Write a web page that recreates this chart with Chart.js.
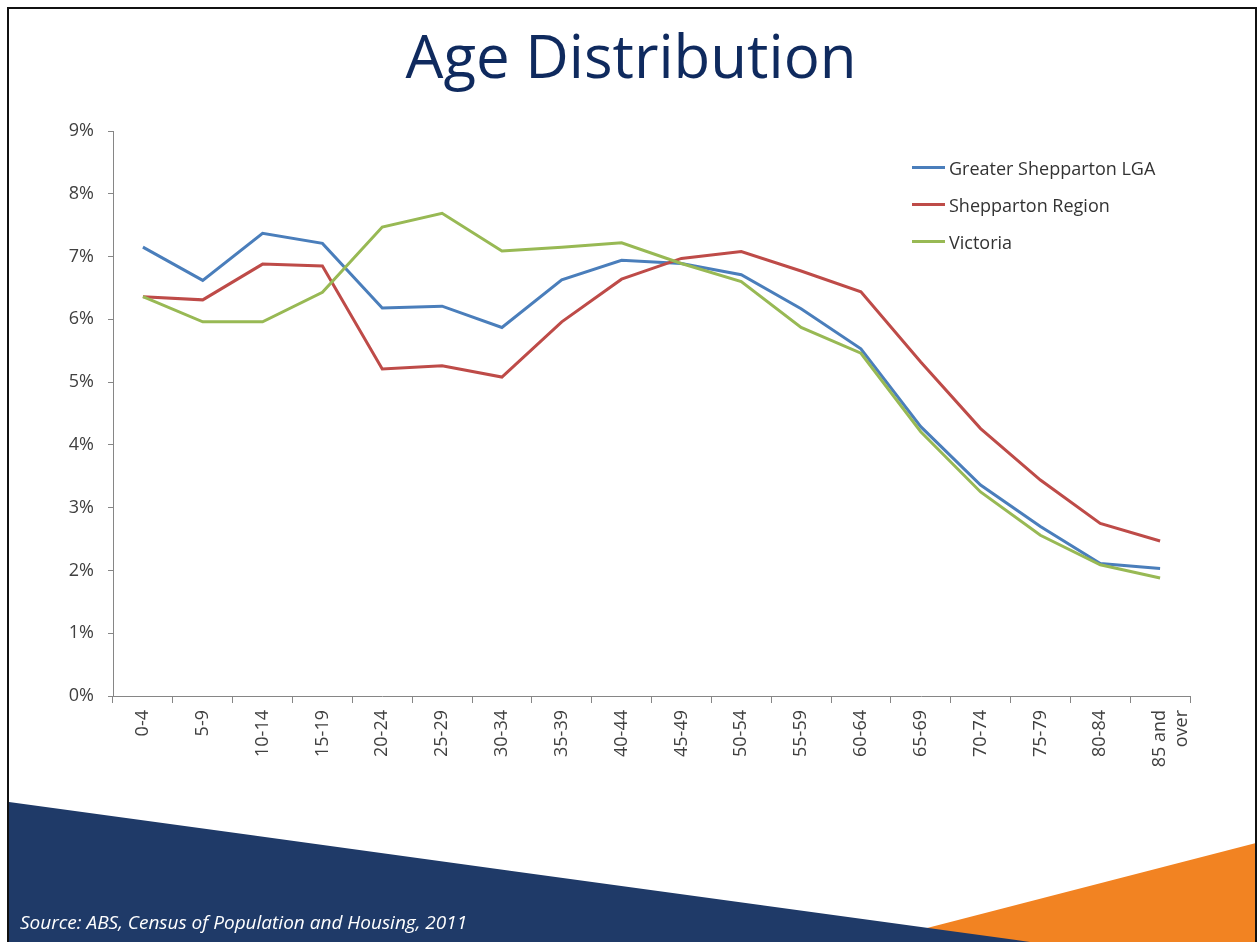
<!DOCTYPE html>
<html>
<head>
<meta charset="utf-8">
<title>Age Distribution</title>
<script src="https://cdn.jsdelivr.net/npm/chart.js@4.4.1/dist/chart.umd.min.js"></script>
<style>
    html, body { margin: 0; padding: 0; background: #fff; }
    #slide {
        position: relative;
        width: 1258px;
        height: 942px;
        overflow: hidden;
        background: #fff;
        font-family: "Open Sans", "Noto Sans", sans-serif;
    }
    #frame {
        position: absolute;
        left: 7px;
        top: 7px;
        width: 1250px;
        height: 940px;
        box-sizing: border-box;
        border: 2px solid #111;
        border-bottom: none;
    }
    #shapes { position: absolute; left: 0; top: 0; }
    #title {
        position: absolute;
        left: 0;
        top: 25px;
        width: 1262px;
        text-align: center;
        font-size: 60px;
        line-height: 60px;
        color: #0f2a5e;
    }
    #chart { position: absolute; left: 0; top: 0; }
    #legend { position: absolute; left: 912px; top: 149px; }
    .legend-item {
        display: flex;
        align-items: center;
        height: 37px;
        font-size: 18px;
        color: #333;
    }
    .legend-line { width: 33px; height: 3px; margin-right: 4px; }
    #source {
        position: absolute;
        left: 20px;
        top: 913px;
        font-size: 19px;
        line-height: 19px;
        font-style: italic;
        color: #fff;
    }
</style>
</head>
<body>
<div id="slide">
    <svg id="shapes" width="1258" height="942">
        <polygon points="900,935 1256,843 1256,942 900,942" fill="#f28322"/>
        <polygon points="9,802 1030,942 9,942" fill="#1f3a68"/>
    </svg>
    <div id="frame"></div>
    <div id="title">Age Distribution</div>
    <canvas id="chart" width="1258" height="942"></canvas>
    <div id="legend"></div>
    <div id="source">Source: ABS, Census of Population and Housing, 2011</div>
</div>
<script>
// 年齡組
const ageGroups = ['0-4', '5-9', '10-14', '15-19', '20-24', '25-29', '30-34', '35-39', '40-44',
    '45-49', '50-54', '55-59', '60-64', '65-69', '70-74', '75-79', '80-84', ['85 and', 'over']];

// 各地區人口比例 (%)
const greaterShepparton = [7.15, 6.62, 7.37, 7.21, 6.18, 6.21, 5.87, 6.63, 6.94,
    6.89, 6.71, 6.17, 5.53, 4.29, 3.36, 2.70, 2.11, 2.03];
const sheppartonRegion = [6.36, 6.31, 6.88, 6.85, 5.21, 5.26, 5.08, 5.96, 6.64,
    6.97, 7.08, 6.77, 6.44, 5.32, 4.26, 3.44, 2.75, 2.47];
const victoria = [6.36, 5.96, 5.96, 6.43, 7.47, 7.69, 7.09, 7.15, 7.22,
    6.89, 6.60, 5.87, 5.46, 4.21, 3.25, 2.56, 2.09, 1.88];

const seriesNames = ['Greater Shepparton LGA', 'Shepparton Region', 'Victoria'];
const seriesColors = ['#4a7ebb', '#be4b48', '#98b954'];
const seriesData = [greaterShepparton, sheppartonRegion, victoria];

const yTicks = [0, 1, 2, 3, 4, 5, 6, 7, 8, 9];

const axisColor = '#868686';
const tickFont = { family: '"Open Sans", "Noto Sans", sans-serif', size: 18 };

const ctx = document.getElementById('chart').getContext('2d');

const chart = new Chart(ctx, {
    type: 'line',
    data: {
        labels: ageGroups,
        datasets: seriesData.map((values, i) => ({
            label: seriesNames[i],
            data: values,
            borderColor: seriesColors[i],
            backgroundColor: seriesColors[i],
            borderWidth: 3,
            pointRadius: 0,
            tension: 0,
            fill: false,
            order: 3 - i
        }))
    },
    options: {
        responsive: false,
        animation: false,
        layout: {
            padding: { top: 131, right: 68, bottom: 146, left: 0 }
        },
        plugins: {
            legend: { display: false },
            tooltip: { enabled: false }
        },
        scales: {
            x: {
                offset: true,
                afterFit: function(scale) { scale.height = 100; },
                grid: {
                    offset: true,
                    drawOnChartArea: false,
                    drawTicks: true,
                    tickLength: 7,
                    color: axisColor
                },
                border: { display: true, color: axisColor, width: 1 },
                ticks: {
                    autoSkip: false,
                    maxRotation: 90,
                    minRotation: 90,
                    padding: 7,
                    color: '#404040',
                    font: tickFont
                }
            },
            y: {
                min: 0,
                max: 9,
                afterFit: function(scale) { scale.width = 113; },
                afterBuildTicks: function(scale) {
                    scale.ticks = yTicks.map(v => ({ value: v }));
                },
                grid: {
                    drawOnChartArea: false,
                    drawTicks: true,
                    tickLength: 5,
                    color: axisColor
                },
                border: { display: true, color: axisColor, width: 1 },
                ticks: {
                    padding: 14,
                    color: '#404040',
                    font: tickFont,
                    callback: function(value) {
                        return value + '%';
                    }
                }
            }
        }
    }
});

// 圖例
const legend = document.getElementById('legend');
seriesNames.forEach((name, i) => {
    const item = document.createElement('div');
    item.className = 'legend-item';
    const line = document.createElement('span');
    line.className = 'legend-line';
    line.style.background = seriesColors[i];
    const text = document.createElement('span');
    text.textContent = name;
    item.appendChild(line);
    item.appendChild(text);
    legend.appendChild(item);
});
</script>
</body>
</html>
